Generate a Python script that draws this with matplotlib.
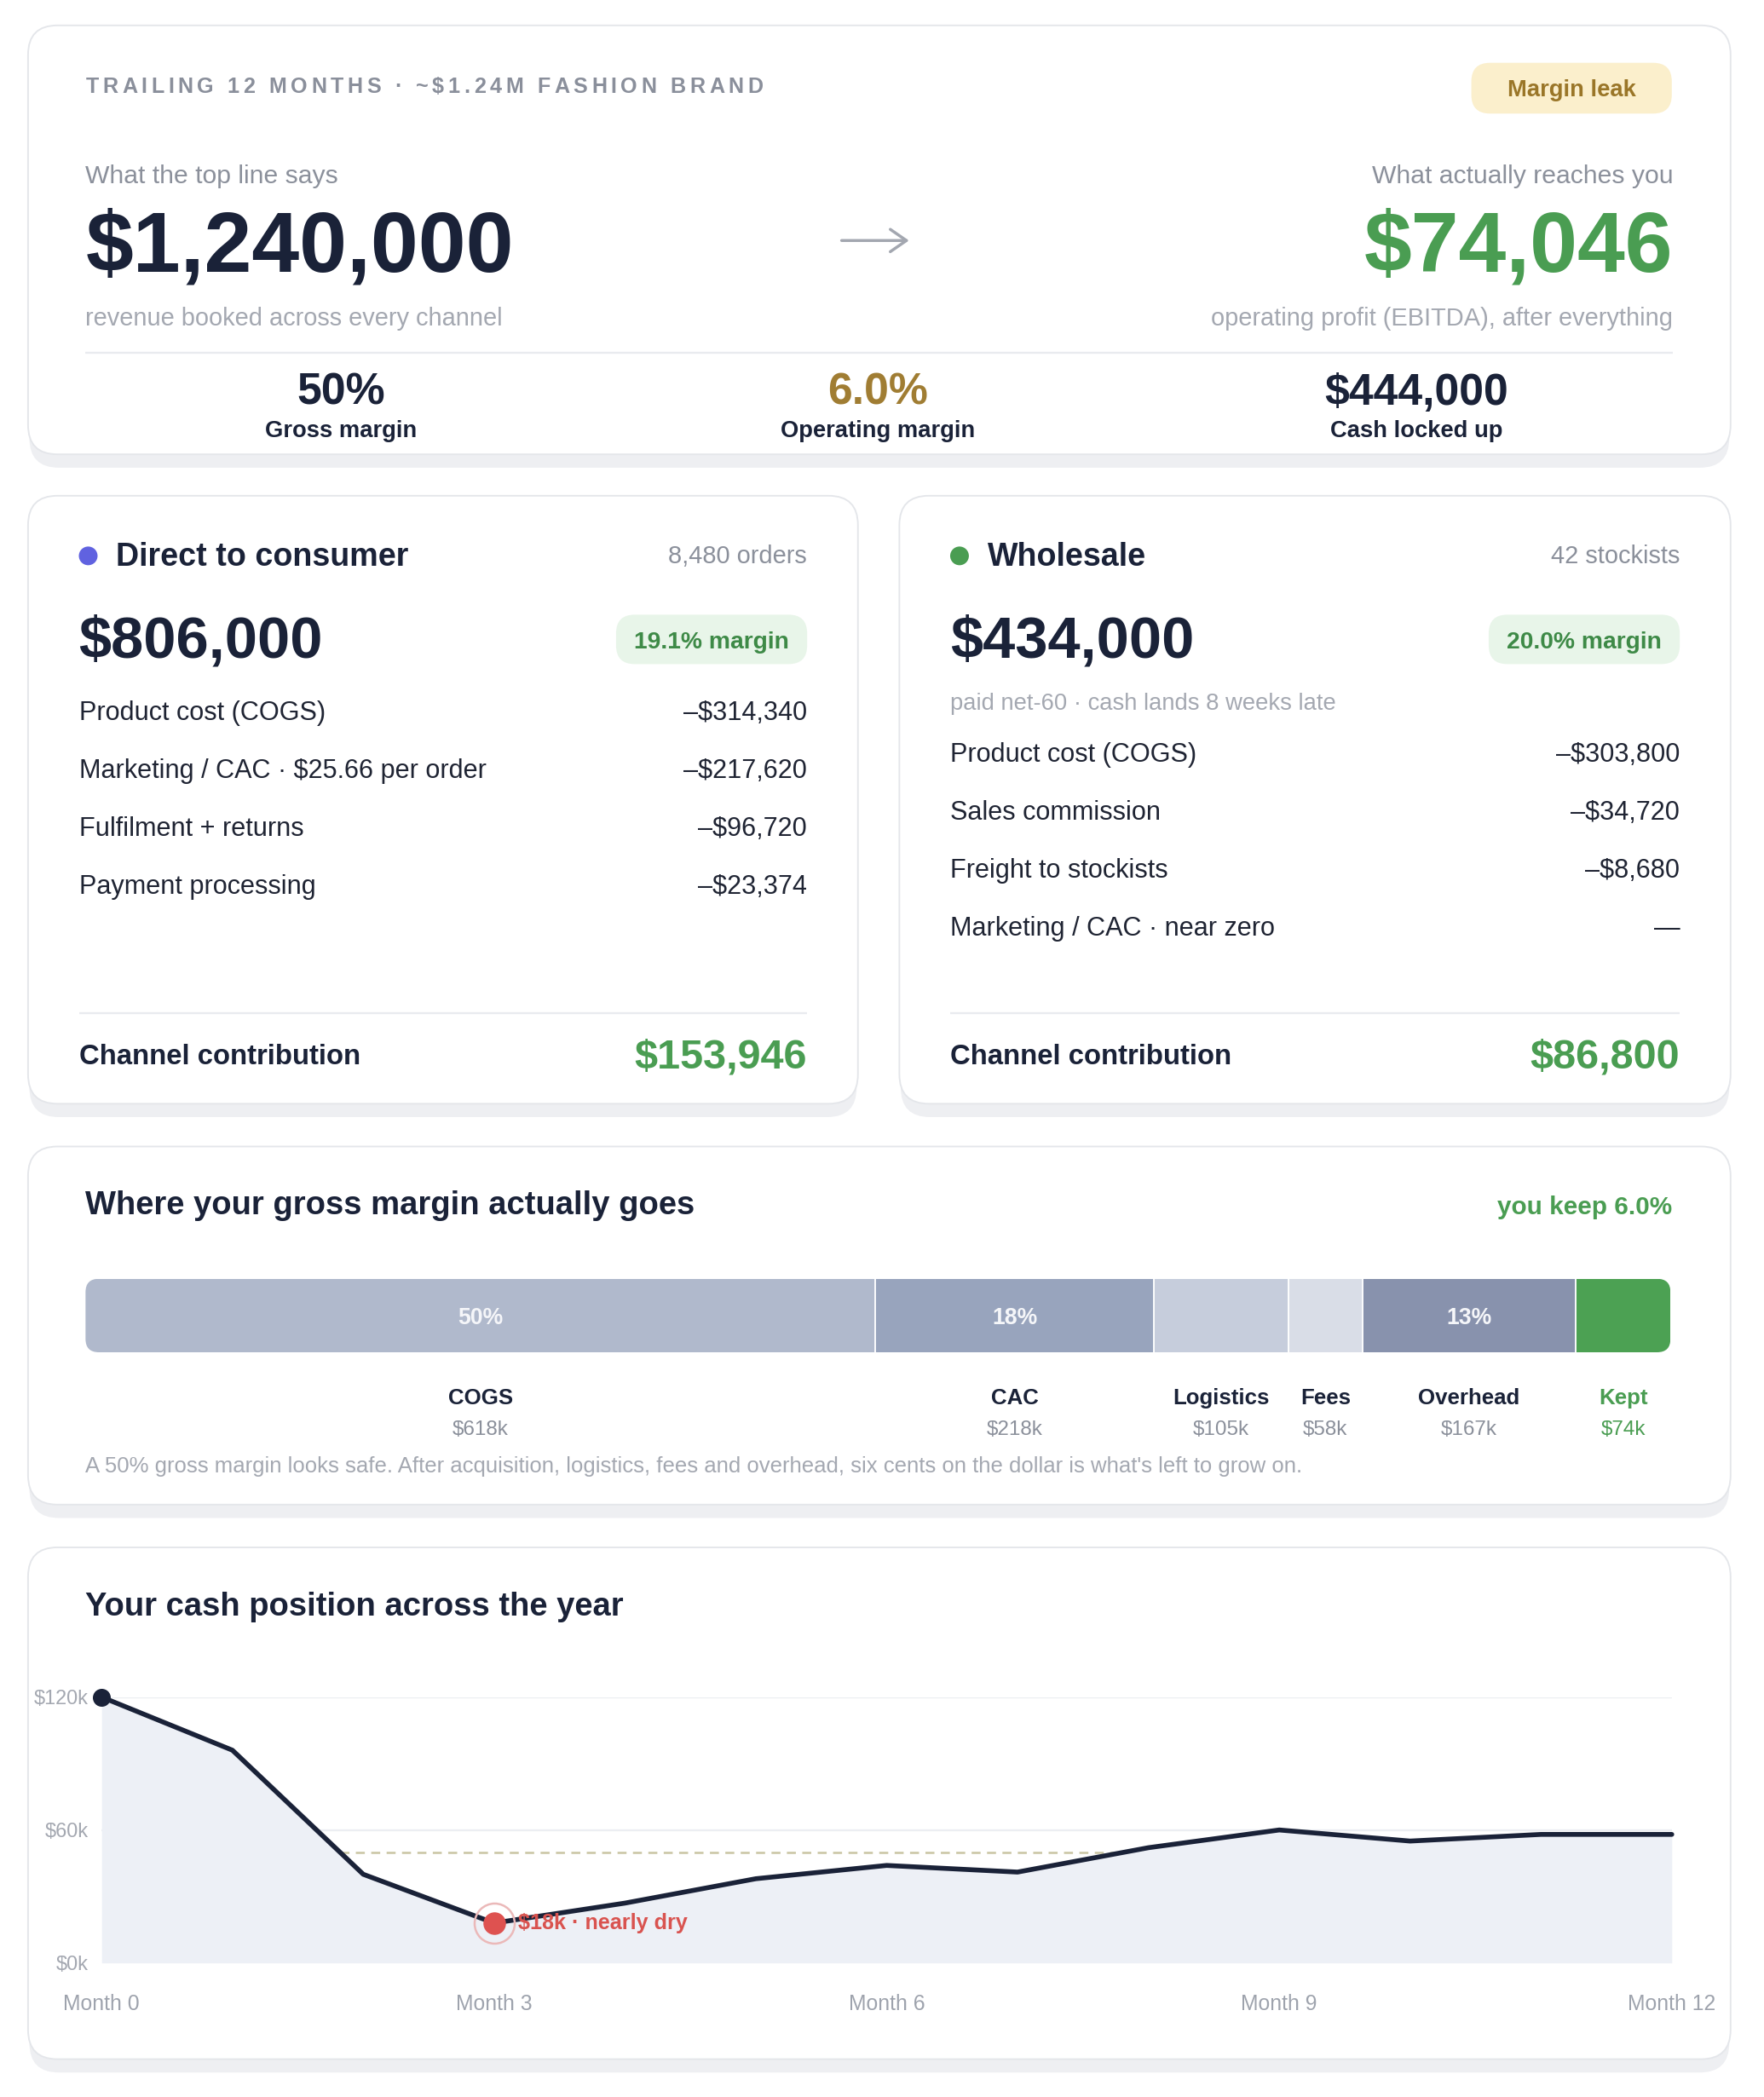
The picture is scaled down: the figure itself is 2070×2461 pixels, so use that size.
import matplotlib
matplotlib.use("Agg")
import matplotlib.pyplot as plt
from matplotlib.patches import FancyBboxPatch, Circle, FancyArrowPatch
from matplotlib.transforms import blended_transform_factory
from matplotlib.font_manager import FontProperties
import numpy as np

# ------------------------------------------------------------------ data
header_label = "TRAILING 12 MONTHS · ~$1.24M FASHION BRAND"
badge_label = "Margin leak"
revenue_total = 1240000
ebitda = 74046
kpi_values = ["50%", "6.0%", "$444,000"]
kpi_labels = ["Gross margin", "Operating margin", "Cash locked up"]

dtc_name = "Direct to consumer"
dtc_revenue = 806000
dtc_count = "8,480 orders"
dtc_margin = "19.1% margin"
dtc_items = ["Product cost (COGS)", "Marketing / CAC · $25.66 per order",
             "Fulfilment + returns", "Payment processing"]
dtc_costs = [314340, 217620, 96720, 23374]
dtc_contribution = 153946

ws_name = "Wholesale"
ws_revenue = 434000
ws_count = "42 stockists"
ws_margin = "20.0% margin"
ws_note = "paid net-60 · cash lands 8 weeks late"
ws_items = ["Product cost (COGS)", "Sales commission", "Freight to stockists",
            "Marketing / CAC · near zero"]
ws_costs = [303800, 34720, 8680, None]
ws_contribution = 86800

margin_categories = ["COGS", "CAC", "Logistics", "Fees", "Overhead", "Kept"]
margin_values_k = [618, 218, 105, 58, 167, 74]
margin_note = ("A 50% gross margin looks safe. After acquisition, logistics, fees and overhead, "
               "six cents on the dollar is what's left to grow on.")

cash_months = list(range(13))
cash_k = [120, 96, 40, 18, 27, 38, 44, 41, 52, 60, 55, 58, 58]
cash_threshold_k = 50
month_ticks = [0, 3, 6, 9, 12]
cash_ticks_k = [0, 60, 120]

# ------------------------------------------------------------------ style
FONT = "Liberation Sans"
plt.rcParams["font.family"] = [FONT, "DejaVu Sans"]
NAVY = "#1a2238"
GREY = "#8b909b"
LGREY = "#a4a8b1"
GREEN = "#4a9d52"
DGREEN = "#3e8a47"
GOLD = "#a07d33"
BORDER = "#e4e6ea"
SHADOW = "#eeeff2"
BAR_COLORS = ["#b0b9cc", "#98a4bd", "#c6cddc", "#d9dde7", "#8892ad", "#4ca153"]

W = 1320.0
H = 2461 * W / 2070
S = 2070 / W
DPI = 100


def fs(px):
    return px * S * 72 / DPI


fig = plt.figure(figsize=(20.70, 24.61), dpi=DPI)
fig.patch.set_facecolor("white")
ax = fig.add_axes([0, 0, 1, 1])
ax.set_xlim(0, W)
ax.set_ylim(H, 0)
ax.axis("off")


def T(x, yc, s, px, color=NAVY, weight="normal", ha="left", a=None, **kw):
    a = a or ax
    return a.text(x, yc + 0.36 * px, s, fontsize=fs(px), color=color,
                  fontweight=weight, ha=ha, va="baseline", zorder=6, **kw)


def card(x0, y0, x1, y1, r=22):
    ax.add_patch(FancyBboxPatch((x0 + 1, y0 + 10), x1 - x0 - 2, y1 - y0,
                                boxstyle=f"round,pad=0,rounding_size={r}",
                                fc=SHADOW, ec="none", zorder=1))
    ax.add_patch(FancyBboxPatch((x0, y0), x1 - x0, y1 - y0,
                                boxstyle=f"round,pad=0,rounding_size={r}",
                                fc="white", ec=BORDER, lw=fs(1.2), zorder=2))


def pill(x0, y0, x1, y1, fc, r=14):
    ax.add_patch(FancyBboxPatch((x0, y0), x1 - x0, y1 - y0,
                                boxstyle=f"round,pad=0,rounding_size={r}",
                                fc=fc, ec="none", zorder=3))


def hline(x0, x1, y, color="#e9ebef", lw=1.5):
    ax.plot([x0, x1], [y, y], color=color, lw=fs(lw), zorder=4, solid_capstyle="butt")


def money(v):
    return f"${v:,.0f}"


renderer = fig.canvas.get_renderer()


def spaced(x, yc, s, px, spacing, color, weight="bold"):
    prop = FontProperties(family=FONT, weight=weight, size=fs(px))
    base = renderer.get_text_width_height_descent("XX", prop, ismath=False)[0]
    cur = x
    for ch in s:
        T(cur, yc, ch, px, color=color, weight=weight)
        w = renderer.get_text_width_height_descent("X" + ch + "X", prop, ismath=False)[0] - base
        cur += w / S + spacing


# ------------------------------------------------------------------ card 1: headline
card(21, 19, 1295, 340)
spaced(64, 64, header_label, 16, 2.92, "#8a8f9b")
pill(1101, 47, 1251, 85, "#fbefcc")
T(1176, 66, badge_label, 17.5, color="#9a7628", weight="bold", ha="center")

T(64, 130, "What the top line says", 19.2, color=GREY)
T(64, 180, money(revenue_total), 64, color=NAVY, weight="bold")
T(64, 237, "revenue booked across every channel", 18.5, color=LGREY)

T(1252, 130, "What actually reaches you", 19.2, color=GREY, ha="right")
T(1252, 180, money(ebitda), 64, color=GREEN, weight="bold", ha="right")
T(1252, 237, "operating profit (EBITDA), after everything", 18.5, color=LGREY, ha="right")

ax.add_patch(FancyArrowPatch((628, 180), (682, 180),
                             arrowstyle="->,head_length=0.55,head_width=0.38",
                             mutation_scale=fs(22), color="#a3a7b0", lw=fs(2.2), zorder=5))

hline(64, 1252, 264)
kpi_x = [255, 657, 1060]
kpi_colors = [NAVY, GOLD, NAVY]
for xk, v, lab, c in zip(kpi_x, kpi_values, kpi_labels, kpi_colors):
    T(xk, 291, v, 33, color=c, weight="bold", ha="center")
    T(xk, 321, lab, 17.5, color=NAVY, weight="bold", ha="center")


# ------------------------------------------------------------------ channel cards
def channel(x0, x1, dot, name, count, revenue, margin, note, items, costs, contribution):
    card(x0, 371, x1, 826)
    left, right = x0 + 38, x1 - 38
    ax.add_patch(Circle((left + 7, 416), 7, fc=dot, ec="none", zorder=5))
    T(left + 28, 415, name, 24, weight="bold")
    T(right, 415, count, 18.5, color=GREY, ha="right")
    T(left, 476, money(revenue), 43.8, weight="bold")
    pill(right - 143, 460, right, 497, "#e8f5e9")
    T(right - 71.5, 479, margin, 18, color=DGREEN, weight="bold", ha="center")
    y = 532
    if note:
        T(left, 525, note, 17.5, color=LGREY)
        y = 563
    for lab, c in zip(items, costs):
        T(left, y, lab, 19.5, color="#1f2433")
        T(right, y, "\u2013" + money(c) if c is not None else "\u2014", 19.5,
          color="#1f2433", ha="right")
        y += 43.4
    hline(left, right, 758)
    T(left, 789, "Channel contribution", 21, weight="bold")
    T(right, 788, money(contribution), 31, color=GREEN, weight="bold", ha="right")


channel(21, 642, "#6062e0", dtc_name, dtc_count, dtc_revenue, dtc_margin, None,
        dtc_items, dtc_costs, dtc_contribution)
channel(673, 1295, "#4a9d52", ws_name, ws_count, ws_revenue, ws_margin, ws_note,
        ws_items, ws_costs, ws_contribution)

# ------------------------------------------------------------------ card 4: margin bar
card(21, 858, 1295, 1126)
T(64, 900, "Where your gross margin actually goes", 24.3, weight="bold")
kept_pct = margin_values_k[-1] / sum(margin_values_k) * 100
T(1251, 902, f"you keep {kept_pct:.1f}%", 19, color=GREEN, weight="bold", ha="right")

bx0, bx1, by0, by1 = 64, 1250, 957, 1012
bax = fig.add_axes([bx0 / W, 1 - by1 / H, (bx1 - bx0) / W, (by1 - by0) / H])
total_k = sum(margin_values_k)
lefts = np.concatenate([[0], np.cumsum(margin_values_k)[:-1]])
bars = bax.barh(0, margin_values_k, left=lefts, height=1.0, color=BAR_COLORS, linewidth=0)
bax.set_xlim(0, total_k)
bax.set_ylim(-0.5, 0.5)
bax.axis("off")
clip = FancyBboxPatch((bx0, by0), bx1 - bx0, by1 - by0,
                      boxstyle="round,pad=0,rounding_size=10", transform=ax.transData)
for b in bars:
    b.set_clip_path(clip)
bax.vlines(np.cumsum(margin_values_k)[:-1], -0.5, 0.5, color="white", lw=fs(1.2))
mix = blended_transform_factory(bax.transData, ax.transData)
for lft, v in zip(lefts, margin_values_k):
    pct = v / total_k * 100
    if pct >= 10:
        bax.text(lft + v / 2, 985 + 0.36 * 17, f"{pct:.0f}%", transform=mix, ha="center",
                 va="baseline", fontsize=fs(17), color="#f5f6f9", fontweight="bold",
                 zorder=6, clip_on=False)
for i, (lft, v, name) in enumerate(zip(lefts, margin_values_k, margin_categories)):
    kept = i == len(margin_values_k) - 1
    cx = lft + v / 2
    ax.text(cx, 1045 + 0.36 * 16.5, name, transform=mix, ha="center", va="baseline",
            fontsize=fs(16.5), fontweight="bold", color=GREEN if kept else NAVY, zorder=6)
    ax.text(cx, 1068 + 0.36 * 15.5, f"${v}k", transform=mix, ha="center", va="baseline",
            fontsize=fs(15.5), color=GREEN if kept else GREY, zorder=6)
T(64, 1096, margin_note, 16.4, color=LGREY)

# ------------------------------------------------------------------ card 5: cash line
card(21, 1158, 1295, 1541)
T(64, 1200, "Your cash position across the year", 24.3, weight="bold")

lx0, lx1, ly_top, ly_bot = 76, 1251, 1270, 1469
lax = fig.add_axes([lx0 / W, 1 - ly_bot / H, (lx1 - lx0) / W, (ly_bot - ly_top) / H])
lax.set_xlim(0, 12)
lax.set_ylim(0, 120)
for sp in lax.spines.values():
    sp.set_visible(False)
lax.patch.set_alpha(0)
months = np.array(cash_months, dtype=float)
cash = np.array(cash_k, dtype=float)
lax.fill_between(months, 0, cash, color="#edf0f6", lw=0, zorder=1)
for t in cash_ticks_k[1:]:
    lax.axhline(t, color="#eceef2", lw=fs(1.5), zorder=0.5)

# dashed threshold over the stretch where cash sits below it
below = cash < cash_threshold_k
i0 = int(np.argmax(below))
i1 = len(below) - 1 - int(np.argmax(below[::-1]))
xs = months[i0 - 1] + (cash[i0 - 1] - cash_threshold_k) / (cash[i0 - 1] - cash[i0])
xe = months[i1] + (cash_threshold_k - cash[i1]) / (cash[i1 + 1] - cash[i1])
lax.plot([xs, xe], [cash_threshold_k] * 2, color="#c9c5a3", lw=fs(1.6),
         dashes=(4.2, 3.0), zorder=2)

lax.plot(months, cash, color=NAVY, lw=fs(3.6), solid_joinstyle="round",
         solid_capstyle="round", zorder=4, clip_on=False)
lax.plot(months[0], cash[0], "o", ms=fs(12.5), color=NAVY, zorder=5, clip_on=False)
imin = int(np.argmin(cash))
lax.plot(months[imin], cash[imin], "o", ms=fs(30), mfc="none", mec="#ebb9b9",
         mew=fs(1.6), zorder=5, clip_on=False)
lax.plot(months[imin], cash[imin], "o", ms=fs(16), color="#de5250", zorder=6, clip_on=False)
lax.annotate(f"${cash[imin]:.0f}k · nearly dry", (months[imin], cash[imin]),
             xytext=(fs(18), 0), textcoords="offset points", ha="left", va="center",
             fontsize=fs(16), fontweight="bold", color="#d9534f", zorder=7)

lax.set_xticks(month_ticks, labels=[f"Month {m}" for m in month_ticks])
lax.set_yticks(cash_ticks_k, labels=[f"${t}k" for t in cash_ticks_k])
lax.tick_params(axis="x", length=0, pad=fs(23), labelsize=fs(15.8), labelcolor="#9ea3ad")
lax.tick_params(axis="y", length=0, pad=fs(10), labelsize=fs(15), labelcolor="#a4a8b1")

fig.savefig("out.png", dpi=DPI, facecolor="white")
